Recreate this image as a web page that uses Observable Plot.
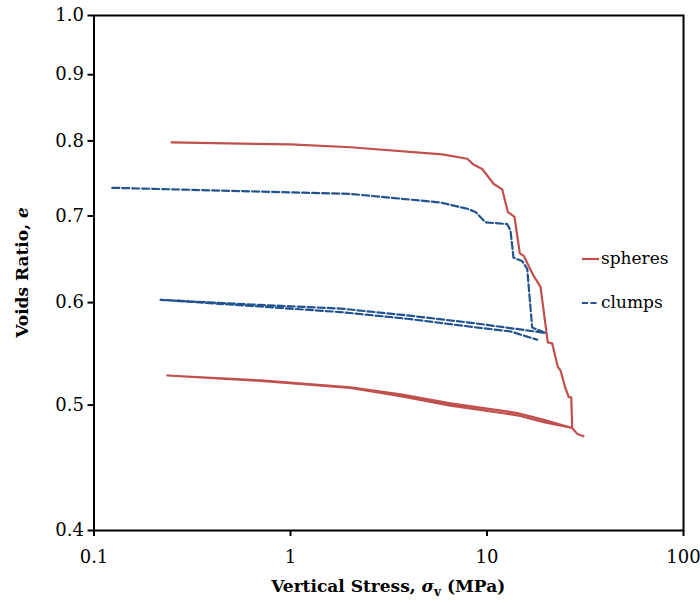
<!DOCTYPE html>
<html><head><meta charset="utf-8">
<script src="https://cdn.jsdelivr.net/npm/d3@7"></script>
<script src="https://cdn.jsdelivr.net/npm/@observablehq/plot@0.6"></script>
<style>
html,body{margin:0;padding:0;background:#fff}
#chart svg{display:block}
</style>
</head><body><div id="chart"></div>
<script>
// ---- data ----
const seriesNames = ["spheres", "clumps"];
const seriesColors = ["#C0504D", "#23538F"];

// spheres: load -> unload -> reload -> load
const spheresStress = [0.248, 1.0, 2.02, 5.92, 7.93, 8.54, 9.45, 10.83, 11.95, 12.76, 13.80, 14.69, 15.39, 17.19, 18.72, 20.08, 20.39, 21.47, 22.93, 23.66, 25.08, 26.09, 26.83, 27.14,
  19.46, 14.25, 6.52, 3.63, 2.02, 0.704, 0.236,
  0.704, 2.02, 3.63, 6.52, 14.25, 19.46, 27.14,
  28.78, 30.97];
const spheresVoids = [0.798, 0.795, 0.791, 0.781, 0.775, 0.767, 0.761, 0.741, 0.734, 0.705, 0.699, 0.655, 0.652, 0.630, 0.617, 0.569, 0.559, 0.558, 0.535, 0.532, 0.515, 0.507, 0.507, 0.480,
  0.487, 0.493, 0.5015, 0.5097, 0.516, 0.5225, 0.527,
  0.522, 0.5155, 0.508, 0.4995, 0.491, 0.485, 0.480,
  0.475, 0.473];

// clumps: load -> unload -> reload
const clumpsStress = [0.1238, 1.0, 2.02, 5.80, 7.93, 8.74, 9.83, 12.67, 13.17, 13.64, 15.11, 16.02, 16.98, 19.85,
  8.57, 3.93, 1.797, 0.626, 0.218,
  0.626, 1.797, 3.93, 8.57, 13.17, 18.01];
const clumpsVoids = [0.736, 0.730, 0.728, 0.717, 0.709, 0.705, 0.692, 0.690, 0.682, 0.650, 0.646, 0.637, 0.574, 0.5685,
  0.5785, 0.5865, 0.5937, 0.598, 0.603,
  0.5965, 0.590, 0.583, 0.5744, 0.570, 0.5616];

const xTicks = [0.1, 1, 10, 100];
const xTickLabels = ["0.1", "1", "10", "100"];
const yTicks = [0.4, 0.5, 0.6, 0.7, 0.8, 0.9, 1.0];
const yTickLabels = ["0.4", "0.5", "0.6", "0.7", "0.8", "0.9", "1.0"];

const spheres = spheresStress.map((x, i) => ({x, y: spheresVoids[i]}));
const clumps = clumpsStress.map((x, i) => ({x, y: clumpsVoids[i]}));

const W = 700, H = 603;
const chart = Plot.plot({
  width: W, height: H,
  marginLeft: 93.5, marginRight: 17, marginTop: 15, marginBottom: 73,
  style: {fontFamily: "DejaVu Serif", fontSize: "18px", color: "#000", background: "#fff", overflow: "visible"},
  x: {type: "log", domain: [0.1, 100]},
  y: {type: "log", domain: [0.4, 1.0]},
  marks: [
    Plot.axisX(xTicks, {tickSize: 6, tickPadding: 14, strokeWidth: 2, tickFormat: d => xTickLabels[xTicks.indexOf(d)], label: null, fontSize: 18}),
    Plot.axisY(yTicks, {tickSize: 6, tickPadding: 4, strokeWidth: 2, tickFormat: d => yTickLabels[yTicks.indexOf(d)], label: null, fontSize: 18}),
    Plot.line(spheres, {x: "x", y: "y", stroke: seriesColors[0], strokeWidth: 2.2, strokeLinejoin: "round"}),
    Plot.line(clumps, {x: "x", y: "y", stroke: seriesColors[1], strokeWidth: 2.2, strokeDasharray: "7,3", strokeLinejoin: "round"}),
    Plot.frame({stroke: "#000", strokeWidth: 2})
  ]
});
document.getElementById("chart").appendChild(chart);

const svg = d3.select(chart);
// x title
const xt = svg.append("text")
  .attr("x", (93.5 + 683) / 2).attr("y", 592)
  .attr("text-anchor", "middle")
  .attr("font-family", "DejaVu Serif").attr("font-weight", "bold").attr("font-size", 17).attr("fill", "#000");
xt.append("tspan").text("Vertical Stress, ");
xt.append("tspan").attr("font-style", "italic").text("σ");
xt.append("tspan").attr("font-size", 12).attr("dy", 4).text("v");
xt.append("tspan").attr("dy", -4).text(" (MPa)");
// y title
const yt = svg.append("text")
  .attr("transform", "translate(22,272.5) rotate(-90)")
  .attr("text-anchor", "middle").attr("dy", "0.35em")
  .attr("font-family", "DejaVu Serif").attr("font-weight", "bold").attr("font-size", 17).attr("fill", "#000");
yt.append("tspan").text("Voids Ratio, ");
yt.append("tspan").attr("font-style", "italic").text("e");

// legend
const legendY = [259, 303];
seriesNames.forEach((name, i) => {
  const g = svg.append("g");
  g.append("line").attr("x1", 582).attr("x2", 599).attr("y1", legendY[i]).attr("y2", legendY[i])
    .attr("stroke", seriesColors[i]).attr("stroke-width", 2.2)
    .attr("stroke-dasharray", i === 1 ? "6,2.5" : null);
  g.append("text").attr("x", 601).attr("y", legendY[i]).attr("dy", "0.32em")
    .attr("text-anchor", "start")
    .attr("font-family", "DejaVu Serif").attr("font-size", 17).attr("fill", "#000").text(name);
});
</script>
</body></html>
